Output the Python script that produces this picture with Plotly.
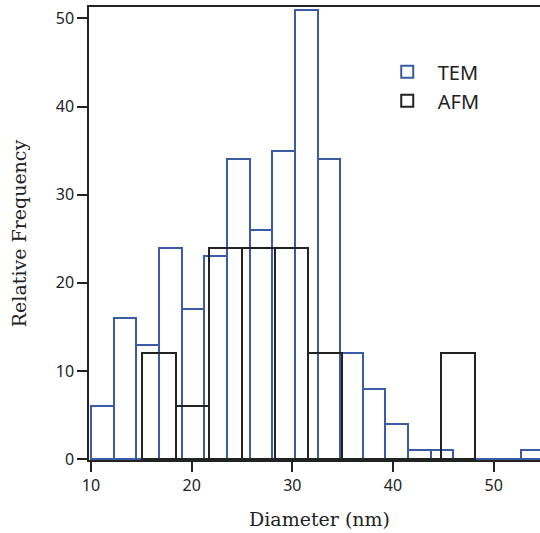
import plotly.graph_objects as go

# TEM histogram (bin width 2.25 nm)
tem_bin_left = [10.0, 12.25, 14.5, 16.75, 19.0, 21.25, 23.5, 25.75, 28.0, 30.25,
                32.5, 34.75, 37.0, 39.25, 41.5, 43.75, 46.0, 48.25, 50.5, 52.75]
tem_width = 2.25
tem_counts = [6, 16, 13, 24, 17, 23, 34, 26, 35, 51,
              34, 12, 8, 4, 1, 1, 0, 0, 0, 1]

# AFM histogram (bin width 3.3 nm)
afm_bin_left = [15.1, 18.4, 21.7, 25.0, 28.3, 31.6, 34.9, 38.2, 41.5, 44.8]
afm_width = 3.3
afm_counts = [12, 6, 24, 24, 24, 12, 0, 0, 0, 12]

x_ticks = [10, 20, 30, 40, 50]
y_ticks = [0, 10, 20, 30, 40, 50]

BLUE = "#3a5ca4"
BLACK = "#222222"

fig = go.Figure()
fig.add_trace(go.Bar(
    x=[l + tem_width / 2 for l in tem_bin_left], y=tem_counts,
    width=[tem_width] * len(tem_bin_left), name="TEM",
    marker=dict(color="rgba(0,0,0,0)", line=dict(color=BLUE, width=2)),
))
fig.add_trace(go.Bar(
    x=[l + afm_width / 2 for l in afm_bin_left], y=afm_counts,
    width=[afm_width] * len(afm_bin_left), name="AFM",
    marker=dict(color="rgba(0,0,0,0)", line=dict(color=BLACK, width=2)),
))

tick_font = dict(family="Noto Sans", size=16, color="#222222")
title_font = dict(family="DejaVu Serif", size=19, color="#222222")

fig.update_layout(
    width=540, height=533,
    margin=dict(l=89, r=0, t=7, b=73),
    paper_bgcolor="white", plot_bgcolor="white",
    barmode="overlay", bargap=0,
    showlegend=True,
    legend=dict(x=0.638, y=0.90, xanchor="left", yanchor="top",
                font=dict(family="Noto Sans", size=20, color="#222222"),
                bgcolor="rgba(0,0,0,0)", tracegroupgap=0, itemwidth=51),
    xaxis=dict(range=[9.8, 54.6], tickvals=x_ticks, ticks="outside", ticklen=10,
               tickwidth=1.5, tickcolor="#222222", showline=True, linecolor="#222222",
               linewidth=1.5, mirror=True, showgrid=False, zeroline=False,
               tickfont=tick_font),
    yaxis=dict(range=[-0.1, 51.3], tickvals=y_ticks, ticks="outside", ticklen=10,
               tickwidth=1.5, tickcolor="#222222", showline=True, linecolor="#222222",
               linewidth=1.5, mirror=False, showgrid=False, zeroline=False,
               tickfont=tick_font,
               title=dict(text="Relative Frequency", font=title_font, standoff=24)),
    annotations=[dict(text="Diameter (nm)", xref="paper", yref="paper",
                      x=(319 - 89) / (540 - 89), y=-0.13, xanchor="center", yanchor="middle",
                      showarrow=False, font=title_font)],
)

fig.write_html("out.html", config={"displayModeBar": False},
               post_script="document.body.style.margin='0';document.body.style.padding='0';")
